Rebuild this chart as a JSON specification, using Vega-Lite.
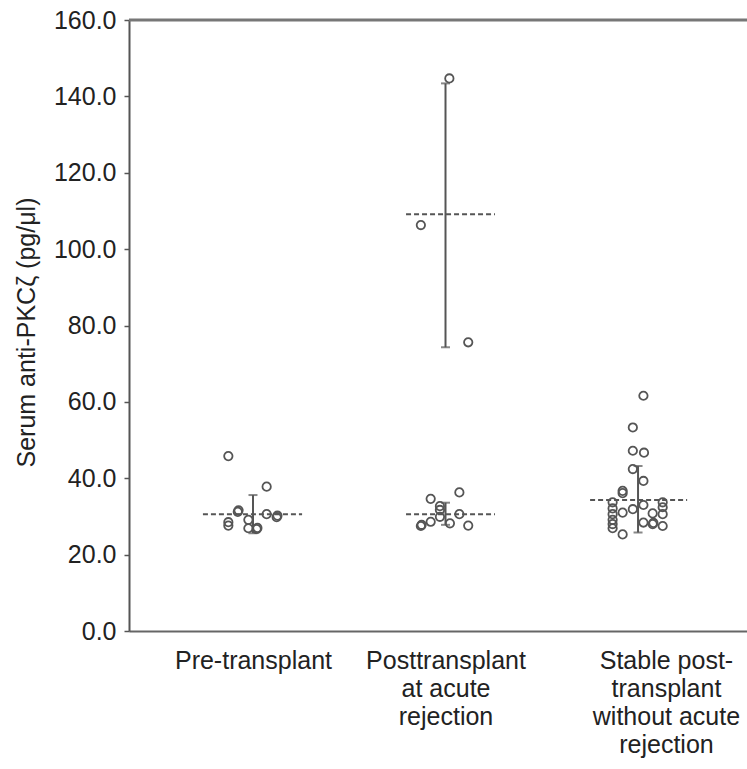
{
  "$schema": "https://vega.github.io/schema/vega-lite/v6.json",
  "width": 618,
  "height": 611,
  "autosize": {"type": "none"},
  "padding": {"left": 129, "top": 20, "right": 0, "bottom": 138},
  "background": "white",
  "view": {"stroke": null},
  "config": {
    "font": "Liberation Sans",
    "axis": {"labelFont": "Liberation Sans", "titleFont": "Liberation Sans", "labelColor": "#222", "titleColor": "#222", "grid": false}
  },
  "datasets": {
    "points": [
      {"group": "Pre-transplant", "x": 0.872, "value": 45.8},
      {"group": "Pre-transplant", "x": 1.071, "value": 37.8},
      {"group": "Pre-transplant", "x": 0.921, "value": 31.2},
      {"group": "Pre-transplant", "x": 0.925, "value": 31.6},
      {"group": "Pre-transplant", "x": 1.071, "value": 30.6},
      {"group": "Pre-transplant", "x": 1.123, "value": 29.8},
      {"group": "Pre-transplant", "x": 1.127, "value": 30.2},
      {"group": "Pre-transplant", "x": 0.872, "value": 28.5},
      {"group": "Pre-transplant", "x": 0.872, "value": 27.6},
      {"group": "Pre-transplant", "x": 0.976, "value": 29.1},
      {"group": "Pre-transplant", "x": 0.976, "value": 26.9},
      {"group": "Pre-transplant", "x": 1.019, "value": 26.7},
      {"group": "Pre-transplant", "x": 1.023, "value": 27.0},
      {"group": "Posttransplant at acute rejection", "x": 2.020, "value": 144.7},
      {"group": "Posttransplant at acute rejection", "x": 1.872, "value": 106.3},
      {"group": "Posttransplant at acute rejection", "x": 2.118, "value": 75.6},
      {"group": "Posttransplant at acute rejection", "x": 2.072, "value": 36.3},
      {"group": "Posttransplant at acute rejection", "x": 1.923, "value": 34.6},
      {"group": "Posttransplant at acute rejection", "x": 1.971, "value": 32.7},
      {"group": "Posttransplant at acute rejection", "x": 1.971, "value": 31.7},
      {"group": "Posttransplant at acute rejection", "x": 1.971, "value": 29.9},
      {"group": "Posttransplant at acute rejection", "x": 2.072, "value": 30.6},
      {"group": "Posttransplant at acute rejection", "x": 1.923, "value": 28.6},
      {"group": "Posttransplant at acute rejection", "x": 1.872, "value": 27.5},
      {"group": "Posttransplant at acute rejection", "x": 1.876, "value": 27.8},
      {"group": "Posttransplant at acute rejection", "x": 2.023, "value": 28.2},
      {"group": "Posttransplant at acute rejection", "x": 2.118, "value": 27.6},
      {"group": "Stable post-transplant without acute rejection", "x": 3.028, "value": 61.6},
      {"group": "Stable post-transplant without acute rejection", "x": 2.973, "value": 53.3},
      {"group": "Stable post-transplant without acute rejection", "x": 2.973, "value": 47.2},
      {"group": "Stable post-transplant without acute rejection", "x": 3.031, "value": 46.7},
      {"group": "Stable post-transplant without acute rejection", "x": 2.973, "value": 42.4},
      {"group": "Stable post-transplant without acute rejection", "x": 3.028, "value": 39.3},
      {"group": "Stable post-transplant without acute rejection", "x": 2.920, "value": 36.7},
      {"group": "Stable post-transplant without acute rejection", "x": 2.920, "value": 36.1},
      {"group": "Stable post-transplant without acute rejection", "x": 2.868, "value": 33.7},
      {"group": "Stable post-transplant without acute rejection", "x": 2.868, "value": 32.1},
      {"group": "Stable post-transplant without acute rejection", "x": 2.868, "value": 30.6},
      {"group": "Stable post-transplant without acute rejection", "x": 2.868, "value": 29.1},
      {"group": "Stable post-transplant without acute rejection", "x": 2.868, "value": 28.0},
      {"group": "Stable post-transplant without acute rejection", "x": 2.868, "value": 26.9},
      {"group": "Stable post-transplant without acute rejection", "x": 2.920, "value": 31.0},
      {"group": "Stable post-transplant without acute rejection", "x": 2.973, "value": 31.9},
      {"group": "Stable post-transplant without acute rejection", "x": 3.028, "value": 33.0},
      {"group": "Stable post-transplant without acute rejection", "x": 3.028, "value": 28.4},
      {"group": "Stable post-transplant without acute rejection", "x": 3.076, "value": 30.8},
      {"group": "Stable post-transplant without acute rejection", "x": 3.076, "value": 28.0},
      {"group": "Stable post-transplant without acute rejection", "x": 3.080, "value": 28.3},
      {"group": "Stable post-transplant without acute rejection", "x": 3.128, "value": 33.7},
      {"group": "Stable post-transplant without acute rejection", "x": 3.128, "value": 32.4},
      {"group": "Stable post-transplant without acute rejection", "x": 3.128, "value": 30.6},
      {"group": "Stable post-transplant without acute rejection", "x": 3.128, "value": 27.5},
      {"group": "Stable post-transplant without acute rejection", "x": 2.920, "value": 25.3}
    ],
    "summary": [
      {"group": "Pre-transplant", "x": 1.0, "xs": 0.74, "xe": 1.255, "mean": 30.6, "lo": 25.6, "hi": 35.6},
      {"group": "Posttransplant at acute rejection (high)", "x": 2.0, "xs": 1.795, "xe": 2.257, "mean": 109.1, "lo": 74.3, "hi": 143.4},
      {"group": "Posttransplant at acute rejection (low)", "x": 2.0, "xs": 1.795, "xe": 2.257, "mean": 30.6, "lo": 27.8, "hi": 33.6},
      {"group": "Stable post-transplant without acute rejection", "x": 3.0, "xs": 2.751, "xe": 3.255, "mean": 34.3, "lo": 25.8, "hi": 43.2}
    ],
    "frame": [{"edge": "top", "value": 160}]
  },
  "layer": [
    {
      "data": {"name": "frame"},
      "mark": {"type": "rule", "color": "#777", "strokeWidth": 3},
      "encoding": {"y": {"field": "value", "type": "quantitative", "scale": {"domain": [0, 160]}}}
    },
    {
      "data": {"name": "summary"},
      "mark": {"type": "rule", "color": "#555", "strokeWidth": 2, "strokeDash": [5, 3]},
      "encoding": {
        "x": {"field": "xs", "type": "quantitative"},
        "x2": {"field": "xe"},
        "y": {"field": "mean", "type": "quantitative"}
      }
    },
    {
      "data": {"name": "summary"},
      "mark": {"type": "rule", "color": "#555", "strokeWidth": 2},
      "encoding": {
        "x": {"field": "x", "type": "quantitative"},
        "y": {"field": "lo", "type": "quantitative"},
        "y2": {"field": "hi"}
      }
    },
    {
      "data": {"name": "summary"},
      "mark": {"type": "tick", "orient": "horizontal", "color": "#555", "size": 9, "thickness": 2},
      "encoding": {
        "x": {"field": "x", "type": "quantitative"},
        "y": {"field": "lo", "type": "quantitative"}
      }
    },
    {
      "data": {"name": "summary"},
      "mark": {"type": "tick", "orient": "horizontal", "color": "#555", "size": 9, "thickness": 2},
      "encoding": {
        "x": {"field": "x", "type": "quantitative"},
        "y": {"field": "hi", "type": "quantitative"}
      }
    },
    {
      "data": {"name": "points"},
      "mark": {"type": "point", "shape": "circle", "filled": false, "stroke": "#555", "strokeWidth": 1.8, "size": 70, "opacity": 1},
      "encoding": {
        "x": {
          "field": "x", "type": "quantitative",
          "scale": {"domain": [0.356, 3.566], "nice": false, "zero": false},
          "axis": {
            "values": [1, 2, 3.145],
            "title": null,
            "ticks": false,
            "tickSize": 0,
            "domainColor": "#666",
            "domainWidth": 2,
            "labelFontSize": 25,
            "labelPadding": 17,
            "labelLineHeight": 28,
            "labelBaseline": "top",
            "labelAlign": "center",
            "labelExpr": "datum.value < 1.5 ? 'Pre-transplant' : datum.value < 2.5 ? ['Posttransplant', 'at acute', 'rejection'] : ['Stable post-', 'transplant', 'without acute', 'rejection']"
          }
        },
        "y": {
          "field": "value", "type": "quantitative",
          "scale": {"domain": [0, 160], "nice": false},
          "axis": {
            "values": [0, 20, 40, 60, 80, 100, 120, 140, 160],
            "format": ".1f",
            "title": "Serum anti-PKCζ (pg/μl)",
            "titleFontSize": 25,
            "titleFontWeight": "normal",
            "titlePadding": 14,
            "titleY": 312,
            "labelFontSize": 25,
            "labelPadding": 8,
            "domainColor": "#555",
            "domainWidth": 2,
            "tickColor": "#555",
            "tickWidth": 1.5,
            "tickSize": 5
          }
        }
      }
    }
  ]
}
